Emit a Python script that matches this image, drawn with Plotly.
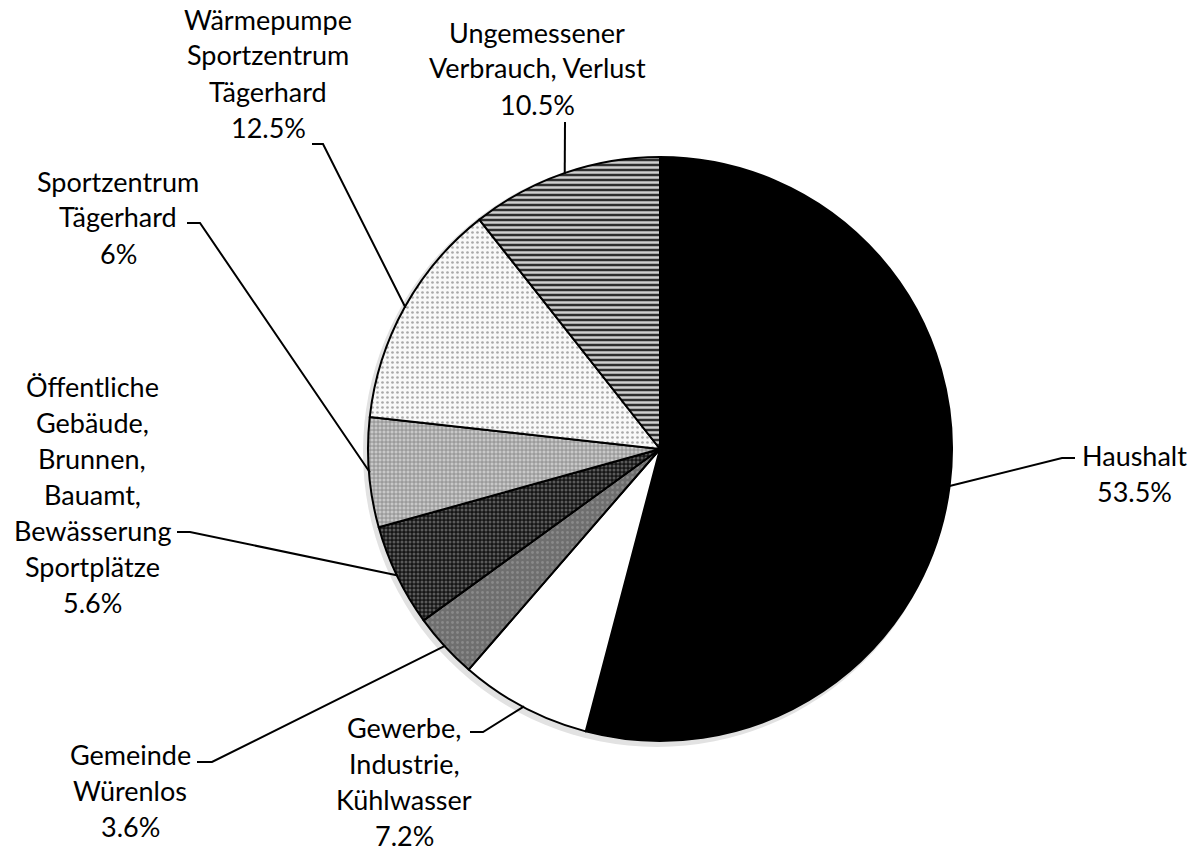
import math
import plotly.graph_objects as go

# ---- data ----
categories = [
    "Haushalt",
    "Gewerbe,\nIndustrie,\nKühlwasser",
    "Gemeinde\nWürenlos",
    "Öffentliche\nGebäude,\nBrunnen,\nBauamt,\nBewässerung\nSportplätze",
    "Sportzentrum\nTägerhard",
    "Wärmepumpe\nSportzentrum\nTägerhard",
    "Ungemessener\nVerbrauch, Verlust",
]
values = [53.5, 7.2, 3.6, 5.6, 6, 12.5, 10.5]

# ---- styles ----
bg_colors = ["#000000", "#ffffff", "#6f6f6f", "#161616", "#c8c8c8", "#f8f8f8", "#2e2e2e"]
fg_colors = ["#000000", "#ffffff", "#8a8a8a", "#5a5a5a", "#808080", "#a8a8a8", "#cfcfcf"]
shapes_p = ["", "", ".", ".", "+", ".", "-"]
sizes_p = [6, 6, 5, 4, 4, 5, 5]
solid_p = [0.3, 0.3, 0.25, 0.45, 0.35, 0.22, 0.5]

W, H = 1203, 854
CX, CY, R = 660, 449, 292  # pie centre / radius in pixels

# label layout in pixels: (text centre x, first line centre y, elbow x, elbow y, end x, end y)
label_layout = [
    (1134, 455, 1062, 458, 1075, 458),
    (404, 727, 483, 732, 470, 732),
    (130, 754, 212, 762, 197, 762),
    (92, 386, 190, 532, 177, 532),
    (118, 181, 200, 223, 187, 223),
    (268, 19, 323, 144, 312, 144),
    (537, 32, 565, 122, 565, 122),
]
LINE_H = 36
FONT = dict(family="Lato, 'Open Sans', sans-serif", size=27, color="#000000")


def px(x):
    return x / W


def py(y):
    return 1 - y / H


fig = go.Figure()
fig.add_trace(go.Pie(
    labels=[c.replace("\n", " ") for c in categories],
    values=values,
    sort=False,
    direction="clockwise",
    rotation=0,
    textinfo="none",
    hoverinfo="label+value",
    showlegend=False,
    domain=dict(x=[px(CX - R), px(CX + R)], y=[py(CY + R), py(CY - R)]),
    marker=dict(
        colors=bg_colors,
        line=dict(color="#000000", width=2),
        pattern=dict(
            shape=shapes_p,
            bgcolor=bg_colors,
            fgcolor=fg_colors,
            size=sizes_p,
            solidity=solid_p,
            fillmode="replace",
        ),
    ),
))

annotations = []
shapes = []

# soft shadow behind the pie
shapes.append(dict(type="circle", xref="paper", yref="paper", layer="below",
                   x0=px(CX - R - 5), x1=px(CX + R - 1), y0=py(CY + R + 6), y1=py(CY - R),
                   fillcolor="#e2e2e2", line=dict(width=0)))

total = sum(values)
cum = 0.0
for cat, val, lay in zip(categories, values, label_layout):
    mid = (cum + val / 2) / total * 2 * math.pi
    cum += val
    ax = CX + (R - 1) * math.sin(mid)
    ay = CY - (R - 1) * math.cos(mid)
    tx, ty, ex, ey, hx, hy = lay
    lines = cat.split("\n") + [f"{val:g}%"]
    for i, ln in enumerate(lines):
        annotations.append(dict(
            x=px(tx), y=py(ty + i * LINE_H), xref="paper", yref="paper",
            text=ln, showarrow=False, xanchor="center", yanchor="middle", font=FONT,
        ))
    path = f"M {px(ax)} {py(ay)} L {px(ex)} {py(ey)} L {px(hx)} {py(hy)}"
    shapes.append(dict(type="path", xref="paper", yref="paper", path=path,
                       line=dict(color="#000000", width=2)))

fig.update_layout(
    width=W, height=H,
    margin=dict(l=0, r=0, t=0, b=0),
    paper_bgcolor="#ffffff",
    plot_bgcolor="#ffffff",
    annotations=annotations,
    shapes=shapes,
)

fig.write_html(
    "out.html",
    config={"displayModeBar": False},
    post_script="document.body.style.margin='0';document.body.style.overflow='hidden';",
)
